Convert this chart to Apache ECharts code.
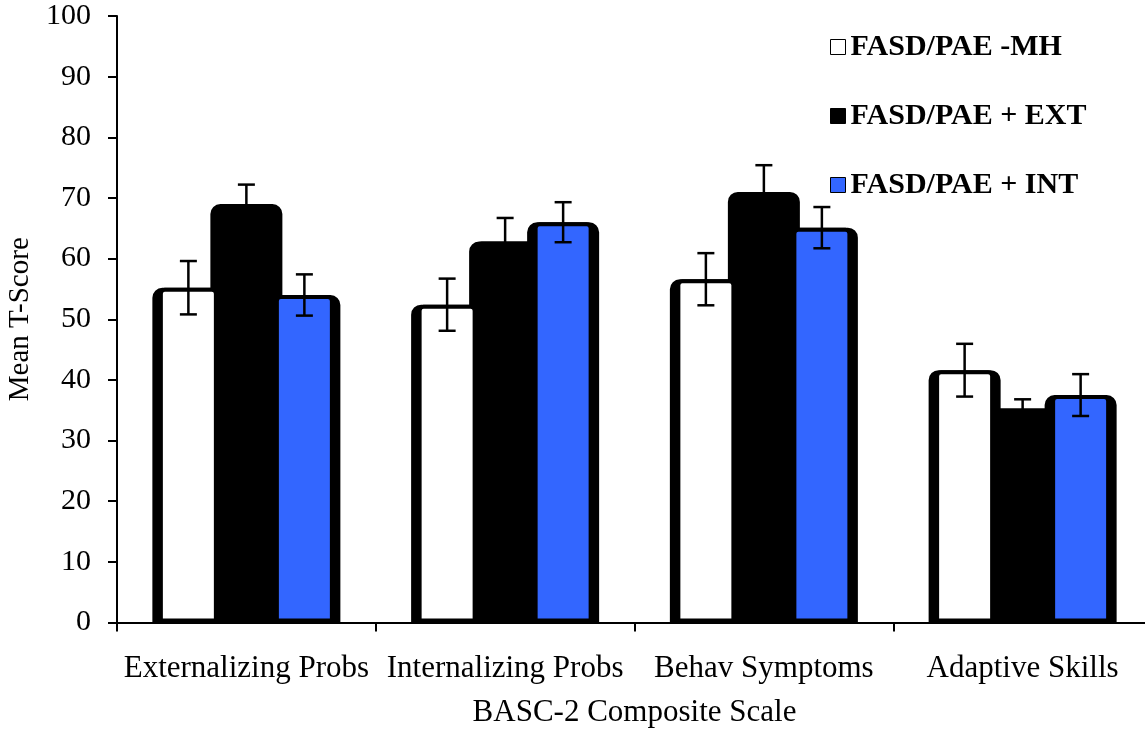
<!DOCTYPE html>
<html>
<head>
<meta charset="utf-8">
<script src="https://cdn.jsdelivr.net/npm/echarts@6/dist/echarts.min.js"></script>
<style>html,body{margin:0;padding:0;background:#fff;}#c{width:1145px;height:729px;}</style>
</head>
<body>
<div id="c"></div>
<script>
// ---- data ----
const categories = ['Externalizing Probs', 'Internalizing Probs', 'Behav Symptoms', 'Adaptive Skills'];
const seriesNames = ['FASD/PAE -MH', 'FASD/PAE + EXT', 'FASD/PAE + INT'];
const mhValues = [55.2, 52.4, 56.6, 41.6];
const mhErrors = [4.4, 4.3, 4.3, 4.35];
const extValues = [69.0, 62.8, 71.0, 35.3];
const extErrors = [3.2, 3.9, 4.4, 1.5];
const intValues = [54.0, 66.0, 65.1, 37.5];
const intErrors = [3.4, 3.3, 3.4, 3.45];
const yTicks = [0, 10, 20, 30, 40, 50, 60, 70, 80, 90, 100];

// ---- styling ----
const FONT = '"Liberation Serif", "Times New Roman", serif';
const colors = ['#ffffff', '#000000', '#3366ff'];
const values = [mhValues, extValues, intValues];
const errors = [mhErrors, extErrors, intErrors];
const BORDER = 4;
const FILL_W = 59;
const OUT_W = 72;
const SPACING = 58;
const fillGap = ((SPACING - FILL_W) / FILL_W * 100).toFixed(2) + '%';
const outGap = ((SPACING - OUT_W) / OUT_W * 100).toFixed(2) + '%';

const series = [];
// outline bars (black, wide) under the fill bars
values.forEach((vals, k) => {
  series.push({
    name: 'outline' + k,
    type: 'bar',
    xAxisIndex: 0,
    barWidth: OUT_W,
    barGap: outGap,
    data: vals,
    itemStyle: { color: '#000', borderColor: '#000', borderWidth: BORDER, borderRadius: [8, 8, 0, 0] },
    z: 2,
    silent: true
  });
});
// fill bars
values.forEach((vals, k) => {
  series.push({
    name: seriesNames[k],
    type: 'bar',
    xAxisIndex: 1,
    barWidth: FILL_W,
    barGap: fillGap,
    data: vals,
    itemStyle: { color: colors[k], borderColor: '#000', borderWidth: BORDER, borderRadius: [4, 4, 0, 0] },
    z: 3
  });
});
// error bars
values.forEach((vals, k) => {
  const offset = (k - 1) * SPACING;
  series.push({
    name: 'err' + k,
    type: 'custom',
    xAxisIndex: 1,
    z: 10,
    silent: true,
    data: vals.map((v, i) => [i, v, errors[k][i]]),
    encode: { x: 0, y: 1 },
    renderItem: function (params, api) {
      const i = api.value(0), v = api.value(1), e = api.value(2);
      const top = api.coord([i, v + e]);
      const bot = api.coord([i, v - e]);
      const x = top[0] + offset;
      const cap = 8.5;
      const st = { stroke: '#000', lineWidth: 2.5 };
      return {
        type: 'group',
        children: [
          { type: 'line', shape: { x1: x, y1: top[1], x2: x, y2: bot[1] }, style: st },
          { type: 'line', shape: { x1: x - cap, y1: top[1], x2: x + cap, y2: top[1] }, style: st },
          { type: 'line', shape: { x1: x - cap, y1: bot[1], x2: x + cap, y2: bot[1] }, style: st }
        ]
      };
    }
  });
});

const chart = echarts.init(document.getElementById('c'), null, { renderer: 'canvas' });
chart.setOption({
  animation: false,
  backgroundColor: '#fff',
  grid: { left: 117, top: 16, width: 1035, height: 606.5, containLabel: false, outerBoundsMode: 'none' },
  legend: {
    orient: 'vertical',
    left: 825,
    top: 27,
    itemWidth: 15,
    itemHeight: 15,
    itemGap: 39,
    icon: 'rect',
    selectedMode: false,
    data: seriesNames.map((n, k) => ({ name: n, itemStyle: { color: colors[k], borderColor: '#000', borderWidth: 1 } })),
    textStyle: { fontFamily: FONT, fontSize: 30, fontWeight: 'bold', color: '#000', lineHeight: 30 }
  },
  xAxis: [
    {
      type: 'category',
      data: categories,
      axisLine: { show: true, lineStyle: { color: '#000', width: 2 } },
      axisTick: { show: true, alignWithLabel: false, length: 9, lineStyle: { color: '#000', width: 2 } },
      axisLabel: { interval: 0, margin: 31, fontFamily: FONT, fontSize: 31, color: '#000' },
      name: 'BASC-2 Composite Scale',
      nameLocation: 'middle',
      nameGap: 75,
      nameTextStyle: { fontFamily: FONT, fontSize: 31, color: '#000' },
      z: 5
    },
    {
      type: 'category',
      data: categories,
      show: false
    }
  ],
  yAxis: {
    type: 'value',
    min: yTicks[0],
    max: yTicks[yTicks.length - 1],
    interval: 10,
    axisLine: { show: true, lineStyle: { color: '#000', width: 2 } },
    axisTick: { show: true, length: 9, lineStyle: { color: '#000', width: 2 } },
    splitLine: { show: false },
    axisLabel: { margin: 26, fontFamily: FONT, fontSize: 30, color: '#000' },
    name: 'Mean T-Score',
    nameLocation: 'middle',
    nameGap: 77,
    nameRotate: 90,
    nameTextStyle: { fontFamily: FONT, fontSize: 29, color: '#000' }
  },
  series: series
});
</script>
</body>
</html>
